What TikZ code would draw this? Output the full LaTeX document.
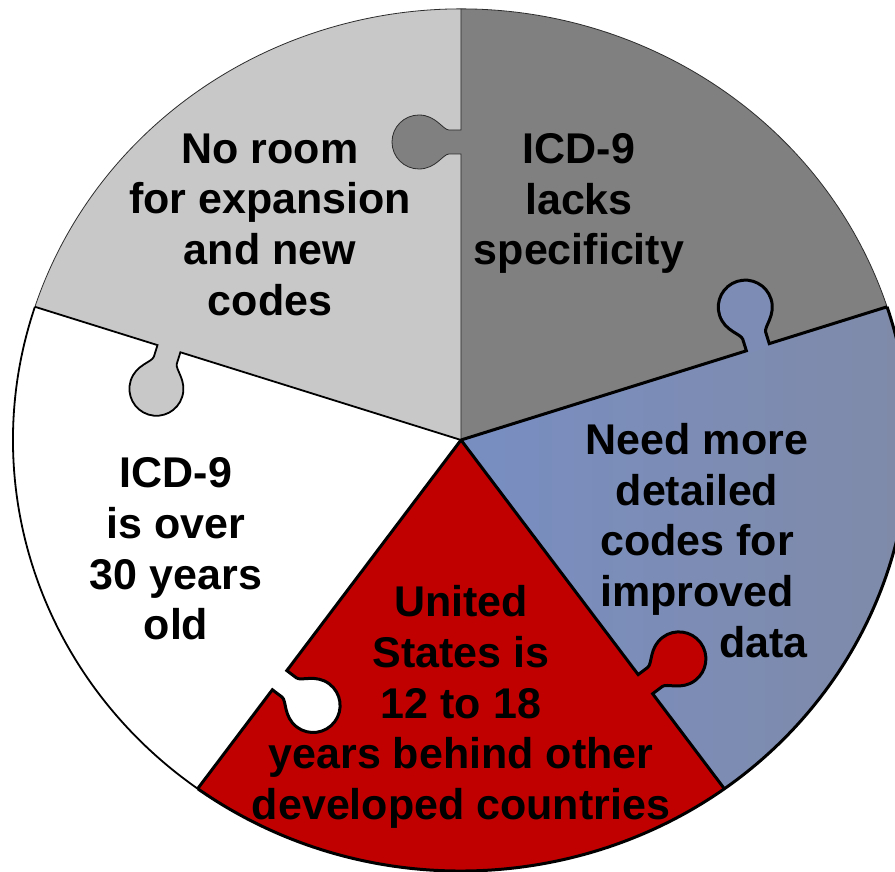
\documentclass[tikz,border=0pt]{standalone}
\usepackage{fontspec}
\setmainfont{Liberation Sans}
\definecolor{lgray}{RGB}{200,200,200}
\definecolor{dgray}{RGB}{128,128,128}
\definecolor{pred}{RGB}{192,0,0}
\definecolor{blueL}{RGB}{120,142,194}
\definecolor{blueR}{RGB}{128,138,166}
\definecolor{rim}{RGB}{45,45,45}
% one puzzle tab, #1 = distance of the tab from the centre
% 12 = half neck, 27 = bulb radius, 42 = bulb centre off the seam
\newcommand{\knobpath}[1]{(#1-12,0) -- (#1-12,12) .. controls (#1-12,18) and (#1-27,25) .. (#1-27,42)
  arc[start angle=180, end angle=0, radius=27pt] .. controls (#1+27,25) and (#1+12,18) .. (#1+12,12) -- (#1+12,0)}
\begin{document}
\begin{tikzpicture}[x=1pt,y=1pt,
  puzzletext/.style={font=\bfseries\fontsize{43}{50.7}\selectfont, align=center, text=black, inner sep=0pt},
  hairrim/.style={line width=0.8pt, draw=rim},
  midrim/.style={line width=1.8pt, draw=black},
  heavyrim/.style={line width=3pt, draw=black}]
% 895x872, centre of the puzzle at (461,440) from the top left
\useasboundingbox (-461,-432) rectangle (434,440);
\clip (-461,-432) rectangle (434,440);
\fill[white] (-461,-432) rectangle (434,440);
% pieces, 448 and 431 = radii of the rim
\foreach \a/\b/\c in {90/162/lgray, 18/90/dgray, 234/306/pred, 162/234/white}
  \fill[\c] (0,0) -- (\a:448pt and 431pt) arc[start angle=\a, end angle=\b, x radius=448pt, y radius=431pt] -- cycle;
\shade[left color=blueL, right color=blueR] (0,0) -- (-54:448pt and 431pt)
  arc[start angle=-54, end angle=18, x radius=448pt, y radius=431pt] -- cycle;
% tabs: seam direction / distance / colour of the piece that owns it
\foreach \r/\d/\c in {90/298/dgray, 17.36/311/blueL!55!blueR, 162.64/306/lgray, -52.94/306/pred, 232.94/301/white}
  \fill[\c, rotate=\r] (\d-12,-3) -- \knobpath{\d} -- (\d+12,-3) -- cycle;
% rim
\foreach \a/\b/\s in {18/162/hairrim, 162/234/midrim, 234/378/heavyrim}
  \draw[\s] (\a:448pt and 431pt) arc[start angle=\a, end angle=\b, x radius=448pt, y radius=431pt];
% seams: direction / length / tab distance / line
\foreach \r/\l/\d/\s in {90/431/298/hairrim, 17.36/446.4/311/heavyrim, 162.64/446.4/306/midrim,
    -52.94/436.95/306/heavyrim, 232.94/436.95/301/heavyrim}
  \draw[\s, rotate=\r] (0,0) -- \knobpath{\d} -- (\l,0);
\node[puzzletext] (noroom) at (-191,215.5) {No room\\for expansion\\and new\\codes};
\node[puzzletext] (lacks) at (118,236.5) {ICD-9\\lacks\\specificity};
\node[puzzletext] (detail) at (236,-100.5) {Need more\\detailed\\codes for\\improved\\\hspace*{3.1em}data};
\node[puzzletext] (behind) at (0,-267) {United\\States is\\12 to 18\\years behind other\\developed countries};
\node[puzzletext] (old) at (-285,-109) {ICD-9\\is over\\30 years\\old};
\end{tikzpicture}
\end{document}
